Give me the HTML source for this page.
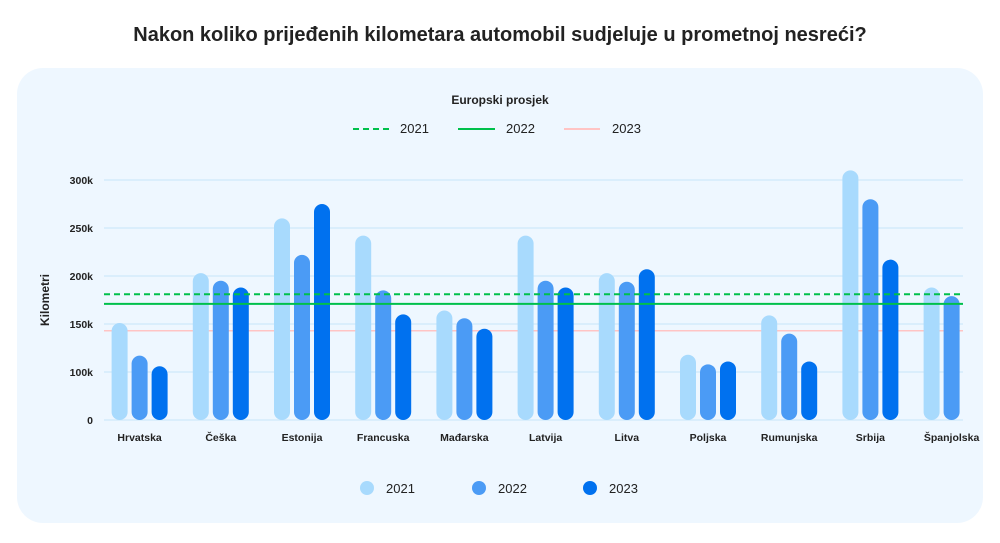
<!DOCTYPE html>
<html><head><meta charset="utf-8"><style>
body{margin:0;background:#fff;width:1000px;height:538px;overflow:hidden;font-family:"Liberation Sans",sans-serif}
</style></head><body>
<svg id="chart" width="1000" height="538" xmlns="http://www.w3.org/2000/svg">
<text x="500" y="41" text-anchor="middle" font-size="20" font-weight="bold" fill="#222">Nakon koliko prijeđenih kilometara automobil sudjeluje u prometnoj nesreći?</text>
<rect x="17" y="68" width="966" height="455" rx="26" fill="#eef7ff"/>
<text x="500" y="104" text-anchor="middle" font-size="12" font-weight="bold" fill="#222">Europski prosjek</text>
<g>
<line x1="353" y1="129" x2="390" y2="129" stroke="#00c04b" stroke-width="2" stroke-dasharray="6,4"/>
<text x="400" y="133" font-size="13" fill="#222">2021</text>
<line x1="458" y1="129" x2="495" y2="129" stroke="#00c04b" stroke-width="2"/>
<text x="506" y="133" font-size="13" fill="#222">2022</text>
<line x1="564" y1="129" x2="600" y2="129" stroke="#ffc4c4" stroke-width="2"/>
<text x="612" y="133" font-size="13" fill="#222">2023</text>
</g>
<text transform="translate(49,300) rotate(-90)" text-anchor="middle" font-size="12" font-weight="bold" fill="#222">Kilometri</text>
<g id="grid"></g><g id="bars"></g><g id="avgs"></g><g id="xlabels"></g>
<g>
<circle cx="367" cy="488" r="7" fill="#a8dafd"/>
<text x="386" y="493" font-size="13" fill="#222">2021</text>
<circle cx="479" cy="488" r="7" fill="#4b9bf5"/>
<text x="498" y="493" font-size="13" fill="#222">2022</text>
<circle cx="590" cy="488" r="7" fill="#0071ef"/>
<text x="609" y="493" font-size="13" fill="#222">2023</text>
</g>
<defs><clipPath id="plotclip"><rect x="0" y="0" width="966" height="538"/></clipPath></defs>
</svg>
<script>
const categories=["Hrvatska","Češka","Estonija","Francuska","Mađarska","Latvija","Litva","Poljska","Rumunjska","Srbija","Španjolska"];
const values2021=[151,203,260,242,164,242,203,118,159,310,188];
const values2022=[117,195,222,185,156,195,194,108,140,280,179];
const values2023=[106,188,275,160,145,188,207,111,111,217,null];
const tickValues=[50,100,150,200,250,300];
const tickLabels=["0","100k","150k","200k","250k","300k"];
const avgValues=[181,171,143];
const seriesColors=["#a8dafd","#4b9bf5","#0071ef"];
const NS="http://www.w3.org/2000/svg";
const y0=420,yMin=50,pxPerK=0.96;
function yScale(v){return y0-(v-yMin)*pxPerK;}
const bandStart=99,bandW=81.2;
function xCenter(i){return bandStart+bandW*(i+0.5);}
function mk(tag,attrs,parent){const e=document.createElementNS(NS,tag);for(const k in attrs)e.setAttribute(k,attrs[k]);parent.appendChild(e);return e;}
const grid=document.getElementById('grid');
tickValues.forEach((t,i)=>{
 const y=yScale(t);
 const l=mk('line',{x1:104,x2:963,y1:y,y2:y,stroke:'#d4ebfb','stroke-width':1.5},grid);
 
 
 const tx=mk('text',{x:93,y:y+4,'text-anchor':'end','font-size':10.5,'font-weight':'bold',fill:'#222'},grid);
 tx.textContent=tickLabels[i];
 
 
});
const bars=document.getElementById('bars');
bars.setAttribute('clip-path','url(#plotclip)');
const series=[values2021,values2022,values2023];
const bw=16;
categories.forEach((c,i)=>{
 series.forEach((s,j)=>{
  const v=s[i]; if(v==null) return;
  const x=xCenter(i)-28+j*20;
  if(x+bw>968) return;
  const y=yScale(v);
  const r=mk('rect',{x:x,y:y,width:bw,height:y0-y,rx:8,fill:seriesColors[j]},bars);
  
  
 });
 const t=mk('text',{x:xCenter(i),y:441,'text-anchor':'middle','font-size':10.5,'font-weight':'bold',fill:'#222'},document.getElementById('xlabels'));
 t.textContent=c;
 
 
});
const avgs=document.getElementById('avgs');
const avgStyles=[{stroke:'#00c04b',dash:'6,4'},{stroke:'#00c04b',dash:''},{stroke:'#ffc4c4',dash:''}];
avgValues.forEach((v,i)=>{
 const y=yScale(v);
 const l=mk('line',{x1:104,x2:963,y1:y,y2:y,stroke:avgStyles[i].stroke,'stroke-width':i==2?1.5:2},avgs);
 if(avgStyles[i].dash) l.setAttribute('stroke-dasharray',avgStyles[i].dash);
 
 
});
// pink line sits behind bars in reference
grid.parentNode.insertBefore(avgs.lastChild,bars);
</script>
</body></html>
